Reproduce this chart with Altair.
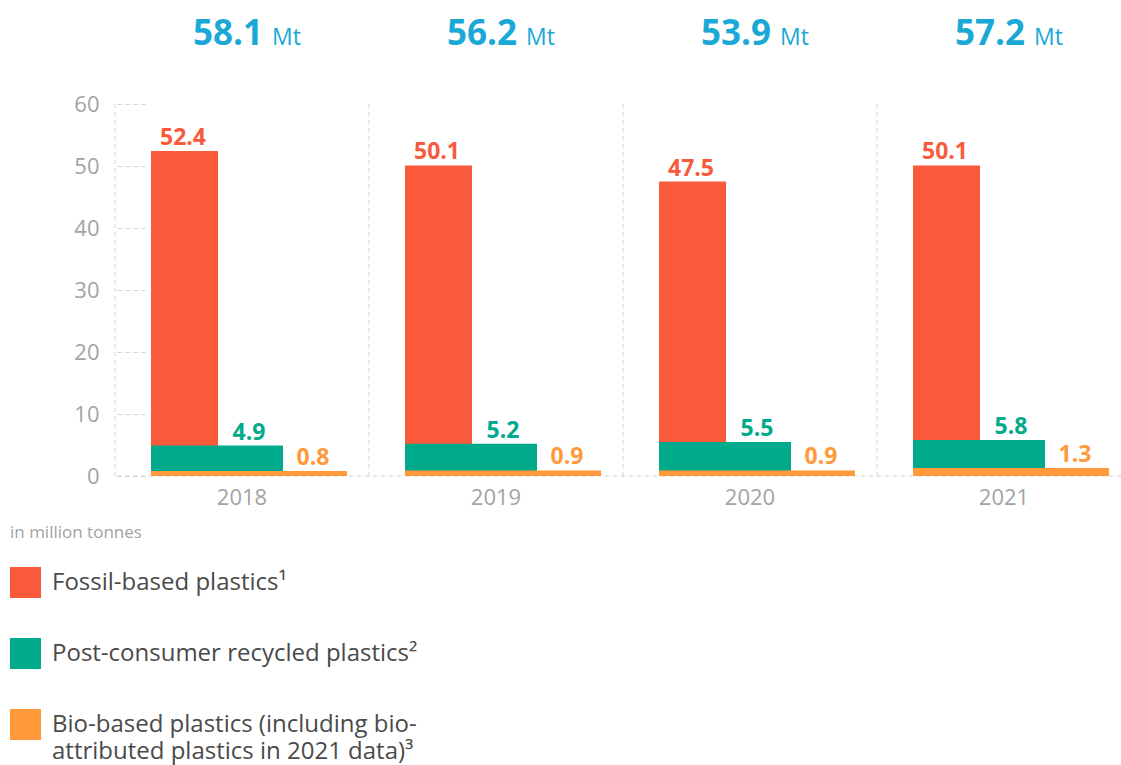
import altair as alt
import pandas as pd

# ---- data ----
years = ["2018", "2019", "2020", "2021"]
totals = [58.1, 56.2, 53.9, 57.2]
fossil = [52.4, 50.1, 47.5, 50.1]
recycled = [4.9, 5.2, 5.5, 5.8]
bio = [0.8, 0.9, 0.9, 1.3]
categories = [
    "Fossil-based plastics¹",
    "Post-consumer recycled plastics²",
    "Bio-based plastics (including bio-|attributed plastics in 2021 data)³",
]
colors = ["#F95A3C", "#00AA8A", "#FF993A"]
y_ticks = [0, 10, 20, 30, 40, 50, 60]
unit = "Mt"
note = "in million tonnes"

FONT = "Open Sans"
BLUE = "#1AA9D6"
GRAY = "#a3a3a3"
GRID = "#d2d2d2"

rows = []
for i, yr in enumerate(years):
    for cat, vals in zip(categories, [fossil, recycled, bio]):
        rows.append({"year": yr, "category": cat, "value": vals[i]})
df = pd.DataFrame(rows)
tot_df = pd.DataFrame({"year": years, "total": totals, "unit": [unit] * len(years)})
note_df = pd.DataFrame({"t": [note]})

x_scale = alt.Scale(type="band", domain=years, range=[0, 1016], paddingInner=0, paddingOuter=0)
x_axis = alt.Axis(title=None, ticks=False, tickSize=0, domain=False, labelPadding=11,
                  labelFontSize=22, labelColor=GRAY, labelFont=FONT, labelAngle=0)
x_enc = alt.X("year:N", scale=x_scale, axis=x_axis)

y_scale = alt.Scale(domain=[0, 60], nice=False)
y_axis = alt.Axis(title=None, values=y_ticks, offset=-30, tickSize=30, tickDash=[4, 4],
                  tickColor=GRID, tickWidth=1, domain=False, grid=False, labelPadding=16,
                  labelFontSize=22, labelColor=GRAY, labelFont=FONT)
y_enc = alt.Y("value:Q", scale=y_scale, axis=y_axis)

color_enc = alt.Color(
    "category:N",
    scale=alt.Scale(domain=categories, range=colors),
    legend=alt.Legend(
        orient="none", legendX=-105, legendY=463, title=None, padding=0,
        symbolType="square", symbolSize=961, symbolStrokeWidth=0, symbolOpacity=1,
        labelFontSize=24, labelColor="#4a4a4a", labelFont=FONT, labelLimit=900,
        labelOffset=11, rowPadding=40,
        labelExpr="split(datum.label, '|')",
    ),
)

separators = alt.Chart(tot_df).mark_rule(color=GRID, strokeDash=[4, 4], strokeWidth=1).encode(
    x=alt.X("year:N", scale=x_scale, axis=x_axis, bandPosition=0)
)
zero_line = alt.Chart(note_df).mark_rule(color=GRID, strokeDash=[4, 4], strokeWidth=1).encode(
    y=alt.datum(0, scale=y_scale)
)

layers = [separators, zero_line]
bar_widths = [67, 132, 196]
bar_offsets = [-57.5, -25, 7]
label_offsets = [-59, 7, 71]
for cat, col, w, off in zip(categories, colors, bar_widths, bar_offsets):
    layers.append(
        alt.Chart(df).transform_filter(alt.datum.category == cat)
        .mark_bar(width=w, xOffset=off)
        .encode(x=x_enc, y=y_enc, color=color_enc)
    )
for cat, col, loff in zip(categories, colors, label_offsets):
    layers.append(
        alt.Chart(df).transform_filter(alt.datum.category == cat)
        .mark_text(xOffset=loff, dy=-6, baseline="alphabetic", align="center",
                   fontWeight="bold", fontSize=23, font=FONT, color=col)
        .encode(x=x_enc, y=y_enc, text=alt.Text("value:Q", format=".1f"))
    )

tot_num = alt.Chart(tot_df).mark_text(
    align="right", baseline="alphabetic", fontSize=35, fontWeight="bold",
    font=FONT, color=BLUE, xOffset=21
).encode(x=x_enc, y=alt.value(-59), text=alt.Text("total:Q", format=".1f"))
tot_unit = alt.Chart(tot_df).mark_text(
    align="left", baseline="alphabetic", fontSize=23, font=FONT, color=BLUE, xOffset=30
).encode(x=x_enc, y=alt.value(-59), text="unit:N")

note_text = alt.Chart(note_df).mark_text(
    align="left", baseline="middle", fontSize=17, font=FONT, color=GRAY
).encode(x=alt.value(-105), y=alt.value(429), text="t:N")

layers += [tot_num, tot_unit, note_text]

chart = alt.layer(*layers).properties(
    width=1006, height=372,
    autosize=alt.AutoSizeParams(type="none"),
    padding={"left": 115, "top": 104, "right": 0, "bottom": 289},
).configure(
    style={"guide-label": {"lineHeight": 27}},
    view=alt.ViewConfig(stroke=None),
)

chart.save("out.html", embed_options={"renderer": "svg", "actions": False})
